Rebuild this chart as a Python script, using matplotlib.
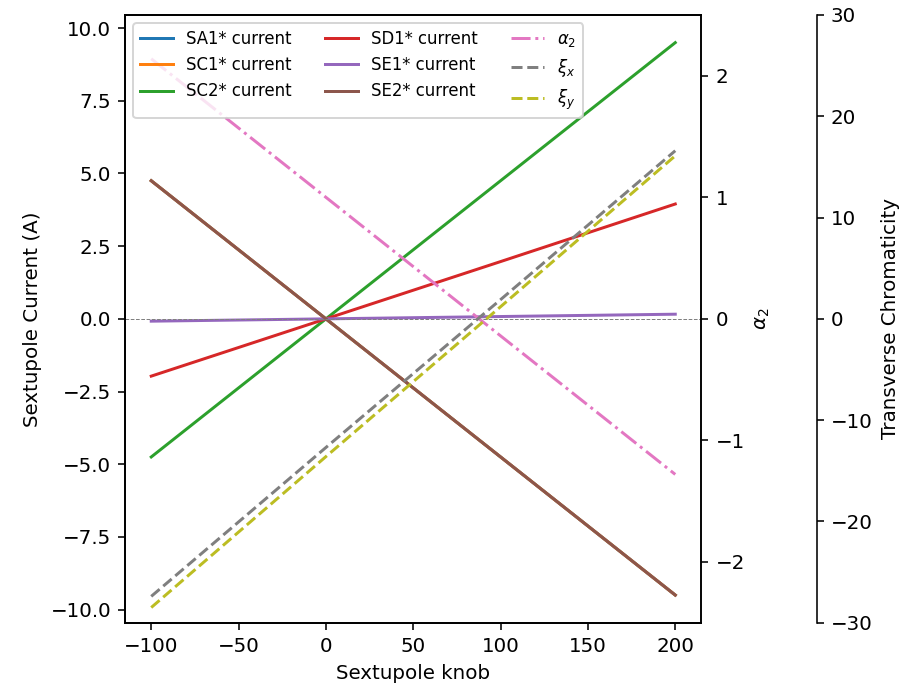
import numpy as np
import matplotlib
matplotlib.use('Agg')
import matplotlib.pyplot as plt

# sextupole knob settings
knob = [-100, 0, 100, 200]

# sextupole currents (A)
sa1_current = [4.75, 0.0, -4.75, -9.5]
sc1_current = [4.75, 0.0, -4.75, -9.5]
sc2_current = [-4.75, 0.0, 4.75, 9.5]
sd1_current = [-1.97, 0.0, 1.97, 3.95]
se1_current = [-0.08, 0.0, 0.08, 0.16]
se2_current = [4.75, 0.0, -4.75, -9.5]

# momentum compaction alpha_2
alpha2 = [2.14, 1.0, -0.14, -1.28]

# transverse chromaticity
xi_x = [-27.4, -12.7, 1.9, 16.6]
xi_y = [-28.5, -13.6, 1.2, 16.1]


def main():
    fig = plt.figure(figsize=(916 / 143, 688 / 143), dpi=143)
    ax = fig.add_axes([0.1365, 0.0949, 0.7658 - 0.1365, 0.9782 - 0.0949])
    ax2 = ax.twinx()
    ax3 = ax.twinx()
    ax3.spines['right'].set_position(('outward', 58))

    lines = []
    lines += ax.plot(knob, sa1_current, color='C0', label='SA1* current')
    lines += ax.plot(knob, sc1_current, color='C1', label='SC1* current')
    lines += ax.plot(knob, sc2_current, color='C2', label='SC2* current')
    lines += ax.plot(knob, sd1_current, color='C3', label='SD1* current')
    lines += ax.plot(knob, se1_current, color='C4', label='SE1* current')
    lines += ax.plot(knob, se2_current, color='C5', label='SE2* current')
    ax.axhline(0, color='gray', ls='--', lw=0.5)

    lines += ax2.plot(knob, alpha2, color='C6', ls='-.', label=r'$\alpha_2$')
    lines += ax3.plot(knob, xi_x, color='C7', ls='--', label=r'$\xi_x$')
    lines += ax3.plot(knob, xi_y, color='C8', ls='--', label=r'$\xi_y$')

    ax2.set_ylim(-2.5, 2.5)
    ax3.set_ylim(-30, 30)

    ax.set_xlabel('Sextupole knob')
    ax.set_ylabel('Sextupole Current (A)')
    ax2.set_ylabel(r'$\alpha_2$')
    ax3.set_ylabel('Transverse Chromaticity')

    ax3.legend(lines, [l.get_label() for l in lines], ncol=3, loc='upper left', fontsize='small')

    fig.savefig('out.png', dpi=143)


if __name__ == '__main__':
    main()
